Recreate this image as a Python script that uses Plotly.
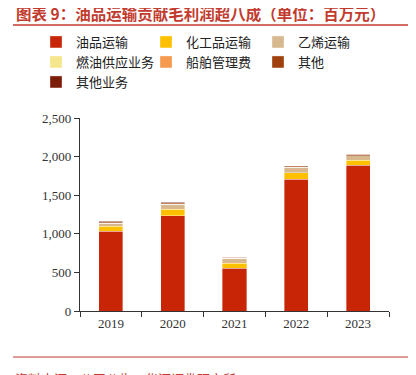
import plotly.graph_objects as go

years = ["2019", "2020", "2021", "2022", "2023"]
oil = [1035, 1235, 553, 1706, 1891]
chem = [62, 83, 65, 85, 65]
ethylene = [40, 65, 65, 72, 52]
fuel = [0, 0, 0, 0, 0]
shipmgmt = [5, 5, 3, 4, 5]
other = [13, 15, 8, 12, 15]
other_biz = [5, 5, 4, 3, 4]

names = ["油品运输", "化工品运输", "乙烯运输", "燃油供应业务", "船舶管理费", "其他", "其他业务"]
values = [oil, chem, ethylene, fuel, shipmgmt, other, other_biz]
colors = ["#C82506", "#FFC000", "#D8B88E", "#F5E58C", "#F59A4E", "#A0410D", "#7B1D08"]

cjk = "Noto Sans CJK SC"
serif = "Liberation Serif"
OFF = 8  # page body margin
W, H = 416 - OFF, 375 - OFF
ml, mr, mt, mb = 80 - OFF, 27, 118 - OFF, 64
pw = W - ml - mr
ph = H - mt - mb

def px(x):
    return (x - OFF - ml) / pw

def py(y):
    return (H - mb - (y - OFF)) / ph

def cx(x):
    return (x - OFF) / W

def cy(y):
    return 1 - (y - OFF) / H

# legend entry marker centres in reference pixels (layout only)
leg_pos = [(55, 42), (165, 42), (277, 42), (55, 62), (165, 62), (277, 62), (55, 82)]

fig = go.Figure()
layout_legends = {}
for i, (name, vals, color) in enumerate(zip(names, values, colors)):
    lg = "legend" if i == 0 else f"legend{i + 1}"
    fig.add_trace(go.Bar(x=years, y=vals, name=name, marker_color=color,
                         marker_line=dict(color="rgba(255,255,255,0.6)", width=0.6),
                         legend=lg, showlegend=True))
    mx, my = leg_pos[i]
    layout_legends[lg] = dict(orientation="h", xref="container", yref="container",
                              x=cx(mx - 19), y=cy(my), xanchor="left", yanchor="middle",
                              font=dict(family=cjk, size=13, color="#222"),
                              bgcolor="rgba(0,0,0,0)", itemclick=False)

fig.update_layout(
    width=W, height=H,
    showlegend=True,
    margin=dict(l=ml, r=mr, t=mt, b=mb),
    barmode="stack", bargap=0.61,
    plot_bgcolor="white", paper_bgcolor="white",
    xaxis=dict(showline=True, linecolor="#333", linewidth=1.2, ticks="outside",
               tickson="boundaries", ticklen=5, tickcolor="#333",
               tickfont=dict(family=serif, size=13, color="#333"), showgrid=False),
    yaxis=dict(range=[0, 2500], dtick=500, tickformat=",d", showline=True,
               linecolor="#333", linewidth=1.2, ticks="outside", ticklen=5,
               tickcolor="#333", showgrid=False,
               tickfont=dict(family=serif, size=13, color="#333")),
    shapes=[
        dict(type="line", xref="paper", yref="paper", x0=px(13), x1=px(410), y0=py(25), y1=py(25),
             line=dict(color="#C23B2E", width=1.5)),
        dict(type="line", xref="paper", yref="paper", x0=px(13), x1=px(410), y0=py(357), y1=py(357),
             line=dict(color="#C23B2E", width=1.2)),
    ],
    annotations=[
        dict(text="<b>图表 9：油品运输贡献毛利润超八成（单位：百万元）</b>", xref="paper", yref="paper",
             x=px(200), y=py(13), xanchor="center", yanchor="middle", showarrow=False,
             font=dict(family=cjk, size=15.5, color="#C23B2E")),
        dict(text="资料来源：公司公告，华源证券研究所", xref="paper", yref="paper",
             x=px(13), y=py(367), xanchor="left", yanchor="top", showarrow=False,
             font=dict(family=cjk, size=13, color="#C23B2E")),
    ],
    **layout_legends,
)

fig.write_html("out.html")
